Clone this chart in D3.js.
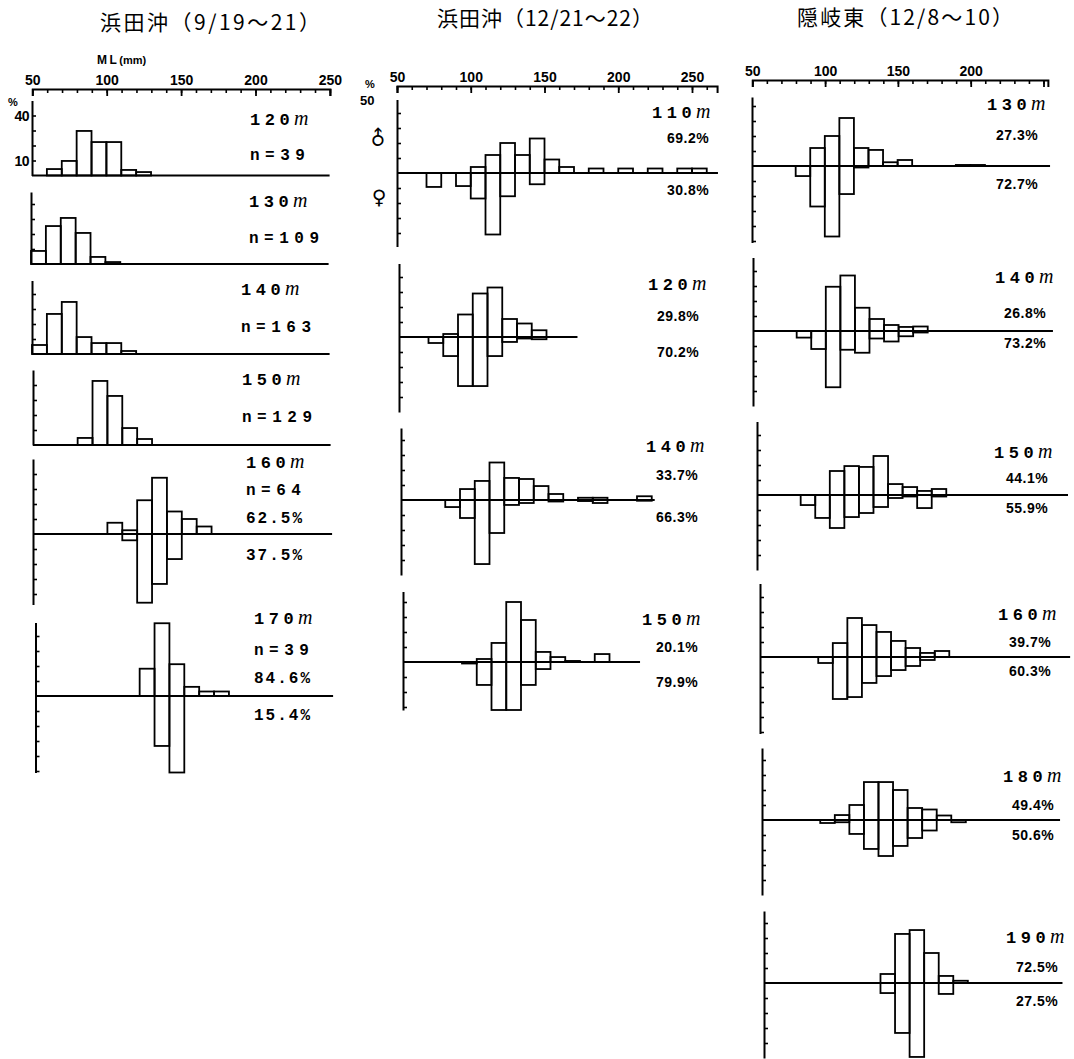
<!DOCTYPE html>
<html><head><meta charset="utf-8">
<script src="https://cdn.jsdelivr.net/npm/d3@7"></script>
<style>
body{margin:0;background:#fff}
.ax text{font:700 14px "Liberation Sans",Arial,sans-serif;fill:#000}
.ax path,.ax line{stroke:#000}
.depth{font:700 17px "Liberation Mono",monospace;fill:#000}
.depth .m{font:italic 400 20px "Liberation Serif",serif;letter-spacing:0}
.nlab{font:700 16px "Liberation Mono",monospace;letter-spacing:5.5px;fill:#000}
.pct1{font:700 16px "Liberation Mono",monospace;letter-spacing:2px;fill:#000}
.pct{font:700 14px "Liberation Sans",Arial,sans-serif;letter-spacing:0.5px;fill:#000}
.title{font:400 21px "Noto Sans CJK JP",sans-serif;fill:#000}
</style>
</head><body>
<svg id="c" width="1074" height="1059"></svg>
<script>
// ---------------- DATA ----------------
const titles = ["浜田沖（9/19～21）", "浜田沖（12/21～22）", "隠岐東（12/8～10）"];
const tickLabels1 = [50, 100, 150, 200, 250];
const tickLabels2 = [50, 100, 150, 200, 250];
const tickLabels3 = [50, 100, 150, 200];

// Column 1: 浜田沖 9/19~21  (unsexed: [bin start mm, %])
const depths1 = ["120", "130", "140", "150", "160", "170"];
const nLabels1 = ["n=39", "n=109", "n=163", "n=129", "n=64", "n=39"];
const h0919_120 = [[60,4.3],[70,9.7],[80,29.7],[90,22.3],[100,22.3],[110,3.7],[120,2.3]];
const h0919_130 = [[50,8.7],[60,25.3],[70,30.7],[80,20.7],[90,4.7],[100,1.3]];
const h0919_140 = [[50,6],[60,26.7],[70,34.7],[80,11.3],[90,7.3],[100,7.3],[110,2]];
const h0919_150 = [[80,4.7],[90,42.7],[100,32.7],[110,11.3],[120,4]];
// sexed: [bin start mm, male %, female %]
const h0919_160 = [[100,7.5,0],[110,2.5,4.2],[120,22.5,45.8],[130,37.5,33.3],[140,15,16.7],[150,10,0],[160,5,0]];
const h0919_170 = [[120,18.2,0],[130,48.5,33.3],[140,21.2,66.7],[150,6.1,0],[160,3,0],[170,3,0]];
const malePct1 = ["62.5%", "84.6%"];
const femalePct1 = ["37.5%", "15.4%"];

// Column 2: 浜田沖 12/21~22
const depths2 = ["110", "120", "140", "150"];
const h1221_110 = [[70,0,9.3],[90,0,8.7],[100,4,17],[110,12,41],[120,20,15.5],[130,12,0],[140,23,7.5],[150,9,0],[160,4,0],[180,3,0],[200,3,0],[220,3,0],[240,3,0],[250,3,0]];
const h1221_120 = [[70,0,4],[80,2,12.7],[90,15,32.7],[100,29,32.7],[110,33,12.7],[120,12,3.3],[130,9,1],[140,4.5,1.5]];
const h1221_140 = [[80,0,4.7],[90,7.3,12],[100,12.7,42.7],[110,25,22],[120,14.7,3.3],[130,14,2],[140,9.3,0],[150,4,1],[170,1.5,0.7],[180,1.5,2],[210,2.5,0.5]];
const h1221_150 = [[90,0,1],[100,2,15.3],[110,12.7,34],[120,40,34],[130,28,15.3],[140,6.7,4.7],[150,3.3,0],[160,0.7,0],[180,5.3,0]];
const malePct2 = ["69.2%", "29.8%", "33.7%", "20.1%"];
const femalePct2 = ["30.8%", "70.2%", "66.3%", "79.9%"];

// Column 3: 隠岐東 12/8~10
const depths3 = ["130", "140", "150", "160", "180", "190"];
const o1208_130 = [[80,0,6.7],[90,12,27],[100,20,47],[110,32,18.7],[120,12,1],[130,10.7,0],[140,2.5,0],[150,4,0],[190,0.7,0],[200,0.7,0]];
const o1208_140 = [[80,0,4.4],[90,0,12],[100,29.5,37.5],[110,37,12.5],[120,15.5,14.5],[130,8,5],[140,4,7],[150,2.7,3.5],[160,3,1]];
const o1208_150 = [[80,0,6.7],[90,0,15.3],[100,16,22],[110,19.3,14.7],[120,18.7,12],[130,26,8],[140,7.3,2],[150,5.3,1],[160,2.7,8.7],[170,4,1]];
const o1208_160 = [[90,0,4],[100,9.3,28],[110,26,26.7],[120,21.3,17.3],[130,16.7,12.7],[140,10.7,8.7],[150,6,6],[160,2.7,2],[170,4,0]];
const o1208_180 = [[90,0,2],[100,3.3,1.5],[110,10,9.3],[120,25.3,19.3],[130,25.3,24],[140,20,17.3],[150,8,12],[160,7,7],[170,3,0],[180,0,1.5]];
const o1208_190 = [[130,6,6.7],[140,32.7,33.3],[150,35.3,49.3],[160,20,0],[170,4.7,7.3],[180,1.5,0]];
const malePct3 = ["27.3%", "26.8%", "44.1%", "39.7%", "49.4%", "72.5%"];
const femalePct3 = ["72.7%", "73.2%", "55.9%", "60.3%", "50.6%", "27.5%"];

// ---------------- LAYOUT ----------------
const S = 1.5; // px per percent
const cols = [
  {k:1.488, ax0:32.3, end:250, y:89, labels:tickLabels1, tx:100, tw:220, ty:29.5},
  {k:1.475, ax0:397, end:267, y:86, labels:tickLabels2, tx:437, tw:216, ty:25.5},
  {k:1.456, ax0:752.3, end:253, y:80, labels:tickLabels3, tx:797, tw:216, ty:24.5}
];
const lay1 = [
  {ax:32, base:175.5, yt:50, yb:0, end:250, lx:250, ly:[125,160]},
  {ax:31, base:264, yt:48, yb:0, end:250, lx:249, ly:[207,243]},
  {ax:32, base:354, yt:49, yb:0, end:250, lx:241, ly:[295,332]},
  {ax:33, base:445, yt:50, yb:0, end:250, lx:242, ly:[385,422]},
  {ax:33, base:534, yt:50, yb:-47, end:251, lx:246, ly:[468,495,523,560]},
  {ax:35.5, base:696, yt:49, yb:-51, end:250, lx:254, ly:[624,655,683,720]}
];
const lay2 = [
  {ax:397, base:173, yt:49, yb:-49, end:267.6, lx:652, px:667, ly:[118,143,195]},
  {ax:399, base:337, yt:49, yb:-50, end:171, lx:648, px:657, ly:[290,321,357]},
  {ax:401, base:500, yt:48, yb:-50, end:222, lx:646, px:656, ly:[452,480,522]},
  {ax:403, base:662, yt:47, yb:-32, end:210.7, lx:642, px:656, ly:[625,652,687]}
];
const lay3 = [
  {ax:752, base:166, yt:46, yb:-51, end:254.7, lx:987, px:996, ly:[110,140,189]},
  {ax:753, base:331, yt:49, yb:-50, end:256, lx:995, px:1004, ly:[283,318,348]},
  {ax:757, base:495, yt:49, yb:-50, end:263.6, lx:994, px:1006, ly:[458,483,513]},
  {ax:760, base:657, yt:49, yb:-51, end:263, lx:998, px:1009, ly:[620,647,676]},
  {ax:762, base:820, yt:48, yb:-50, end:254.7, lx:1003, px:1012, ly:[782,810,840]},
  {ax:764, base:983, yt:48, yb:-50, end:255, lx:1006, px:1016, ly:[943,972,1006]}
];

// ---------------- DRAW ----------------
const svg = d3.select("#c");
svg.append("rect").attr("width",1074).attr("height",1059).attr("fill","#fff");

cols.forEach((c, i) => {
  svg.append("text").attr("class","title").attr("x",c.tx).attr("y",c.ty)
    .attr("textLength",c.tw).attr("lengthAdjust","spacing").text(titles[i]);
  const x = d3.scaleLinear().domain([50, c.end]).range([c.ax0, c.ax0 + (c.end-50)*c.k]);
  const g1 = svg.append("g").attr("class","ax").attr("transform",`translate(0,${c.y})`)
    .call(d3.axisTop(x).tickValues(d3.range(50, c.end+0.01, 10)).tickSizeInner(-4).tickSizeOuter(-7).tickFormat(""));
  g1.select(".domain").attr("stroke-width",2);
  g1.selectAll(".tick line").attr("stroke-width",1.6);
  const g2 = svg.append("g").attr("class","ax").attr("transform",`translate(0,${c.y})`)
    .call(d3.axisTop(x).tickValues([50,100,150,200,250]).tickSizeInner(-7).tickSizeOuter(0).tickPadding(4)
      .tickFormat(d => c.labels.includes(d) ? d : ""));
  g2.select(".domain").remove();
  g2.selectAll(".tick line").attr("stroke-width",1.8);
});

// ML(mm)
const ml = svg.append("text").attr("x",97).attr("y",64).style("font","700 12px 'Liberation Sans',Arial,sans-serif");
ml.append("tspan").style("letter-spacing","2.5px").text("ML");
ml.append("tspan").style("font-size","11px").text("(mm)");

function panel(k, p, data, sexed) {
  const x = d3.scaleLinear().domain([50, 250]).range([p.ax, p.ax + 200*k]);
  const y = d3.scaleLinear().domain([p.yb, p.yt]).range([p.base - p.yb*S, p.base - p.yt*S]).clamp(true);
  const g = svg.append("g");
  const ticks = d3.range(Math.ceil(p.yb/10)*10, p.yt, 10).filter(v => v !== 0 && v > p.yb);
  const ya = g.append("g").attr("class","ax").attr("transform",`translate(${p.ax},0)`)
    .call(d3.axisLeft(y).tickValues(ticks).tickSizeInner(-4).tickSizeOuter(0).tickFormat(""));
  ya.select(".domain").attr("stroke-width",2);
  ya.selectAll(".tick line").attr("stroke-width",1.6);
  const bw = d => x(d[0]+10) - x(d[0]);
  const bars = g.append("g").attr("fill","none").attr("stroke","#000").attr("stroke-width",1.8);
  bars.selectAll("rect.m").data(data.filter(d => d[1] > 0)).join("rect").attr("class","m")
    .attr("x", d => x(d[0])).attr("width", bw)
    .attr("y", d => y(d[1])).attr("height", d => y(0) - y(d[1]));
  if (sexed) {
    bars.selectAll("rect.f").data(data.filter(d => d[2] > 0)).join("rect").attr("class","f")
      .attr("x", d => x(d[0])).attr("width", bw)
      .attr("y", y(0)).attr("height", d => y(-d[2]) - y(0));
  }
  g.append("line").attr("x1", x(50)).attr("x2", x(p.end)).attr("y1", y(0)).attr("y2", y(0))
    .attr("stroke","#000").attr("stroke-width",1.8);
  return {x, y};
}

function depthLabel(x, y, d) {
  const t = svg.append("text").attr("class","depth").attr("x",x).attr("y",y);
  t.append("tspan").style("letter-spacing","4.5px").text(d);
  t.append("tspan").attr("class","m").text("m");
}

// Column 1
const col1Data = [h0919_120, h0919_130, h0919_140, h0919_150, h0919_160, h0919_170];
col1Data.forEach((d, i) => {
  const p = lay1[i];
  panel(cols[0].k, p, d, i >= 4);
  depthLabel(p.lx, p.ly[0], depths1[i]);
  svg.append("text").attr("class","nlab").attr("x",p.lx).attr("y",p.ly[1]).text(nLabels1[i]);
  if (i >= 4) {
    svg.append("text").attr("class","pct1").attr("x",p.lx).attr("y",p.ly[2]).text(malePct1[i-4]);
    svg.append("text").attr("class","pct1").attr("x",p.lx).attr("y",p.ly[3]).text(femalePct1[i-4]);
  }
});
// col1 first panel y labels
{
  const p = lay1[0];
  const y = d3.scaleLinear().domain([0, 50]).range([p.base, p.base - 50*S]);
  svg.append("text").attr("x",8).attr("y",106).style("font","700 11px 'Liberation Sans',sans-serif").text("%");
  [40, 10].forEach(v => svg.append("text").attr("x",29).attr("y",y(v)+5).attr("text-anchor","end")
    .style("font","700 14px 'Liberation Sans',sans-serif").style("letter-spacing","-0.5px").text(v));
}

// Column 2
const col2Data = [h1221_110, h1221_120, h1221_140, h1221_150];
col2Data.forEach((d, i) => {
  const p = lay2[i];
  panel(cols[1].k, p, d, true);
  depthLabel(p.lx, p.ly[0], depths2[i]);
  svg.append("text").attr("class","pct").attr("x",p.px).attr("y",p.ly[1]).text(malePct2[i]);
  svg.append("text").attr("class","pct").attr("x",p.px).attr("y",p.ly[2]).text(femalePct2[i]);
});
svg.append("text").attr("x",365).attr("y",88).style("font","700 11px 'Liberation Sans',sans-serif").text("%");
svg.append("text").attr("x",360).attr("y",105).style("font","700 13px 'Liberation Sans',sans-serif").text("50");
svg.append("text").attr("x",378).attr("y",145).attr("text-anchor","middle")
  .attr("transform","rotate(-45,378,138)")
  .style("font","700 20px 'DejaVu Sans',sans-serif").text("♂");
svg.append("text").attr("x",379).attr("y",204).attr("text-anchor","middle")
  .style("font","700 20px 'DejaVu Sans',sans-serif").text("♀");

// Column 3
const col3Data = [o1208_130, o1208_140, o1208_150, o1208_160, o1208_180, o1208_190];
col3Data.forEach((d, i) => {
  const p = lay3[i];
  panel(cols[2].k, p, d, true);
  depthLabel(p.lx, p.ly[0], depths3[i]);
  svg.append("text").attr("class","pct").attr("x",p.px).attr("y",p.ly[1]).text(malePct3[i]);
  svg.append("text").attr("class","pct").attr("x",p.px).attr("y",p.ly[2]).text(femalePct3[i]);
});
</script>
</body></html>
